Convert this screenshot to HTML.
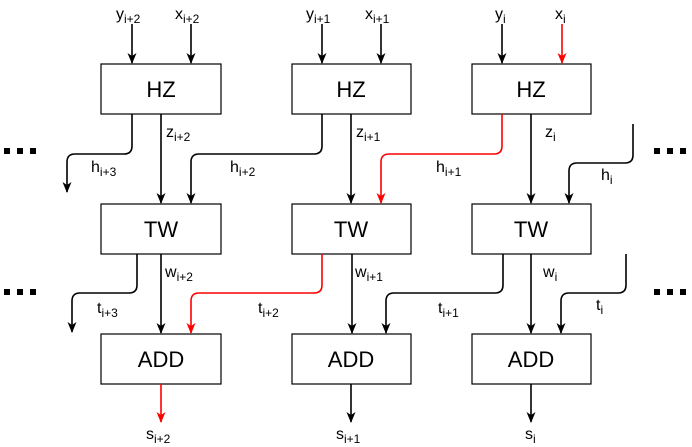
<!DOCTYPE html>
<html><head><meta charset="utf-8"><style>
html,body{margin:0;padding:0;background:#fff;}
svg{display:block;font-family:"Liberation Sans",Arial,sans-serif;}
.b{fill:#fff;stroke:#000;stroke-width:1.2}
.l{fill:none;stroke:#000;stroke-width:1.6}
.r{fill:none;stroke:#f00;stroke-width:1.6}
.bt{font-size:22px;text-anchor:middle}
.t{font-size:16px}
.s{font-size:12px}
</style></head><body>
<svg width="692" height="447" viewBox="0 0 692 447">
<defs>
<marker id="a" markerWidth="12" markerHeight="12" refX="10" refY="6" orient="auto" markerUnits="userSpaceOnUse"><path d="M0,1.5 L11,6 L0,10.5 L3,6 Z" fill="#000"/></marker>
<marker id="ar" markerWidth="12" markerHeight="12" refX="10" refY="6" orient="auto" markerUnits="userSpaceOnUse"><path d="M0,1.5 L11,6 L0,10.5 L3,6 Z" fill="#f00"/></marker>
</defs>
<rect class="b" x="101" y="64" width="120" height="50"/><rect class="b" x="292" y="64" width="119" height="50"/><rect class="b" x="472" y="64" width="119" height="50"/>
<rect class="b" x="101" y="204" width="120" height="50"/><rect class="b" x="292" y="204" width="119" height="50"/><rect class="b" x="472" y="204" width="119" height="50"/>
<rect class="b" x="101" y="334" width="120" height="50"/><rect class="b" x="292" y="334" width="119" height="50"/><rect class="b" x="472" y="334" width="119" height="50"/>
<text class="bt" x="161" y="97">HZ</text><text class="bt" x="351" y="97">HZ</text><text class="bt" x="531" y="97">HZ</text>
<text class="bt" x="161" y="237">TW</text><text class="bt" x="351" y="237">TW</text><text class="bt" x="531" y="237">TW</text>
<text class="bt" x="161" y="367">ADD</text><text class="bt" x="351" y="367">ADD</text><text class="bt" x="531" y="367">ADD</text>
<path class="l" d="M132,24V63" marker-end="url(#a)"/><path class="l" d="M191,24V63" marker-end="url(#a)"/>
<path class="l" d="M322,24V63" marker-end="url(#a)"/><path class="l" d="M381,24V63" marker-end="url(#a)"/>
<path class="l" d="M502,24V63" marker-end="url(#a)"/><path class="r" d="M562,24V63" marker-end="url(#ar)"/>
<text class="t" x="116" y="19">y<tspan class="s" dy="4">i+2</tspan></text>
<text class="t" x="175" y="19">x<tspan class="s" dy="4">i+2</tspan></text>
<text class="t" x="306" y="19">y<tspan class="s" dy="4">i+1</tspan></text>
<text class="t" x="365" y="19">x<tspan class="s" dy="4">i+1</tspan></text>
<text class="t" x="495" y="19">y<tspan class="s" dy="4">i</tspan></text>
<text class="t" x="555" y="19">x<tspan class="s" dy="4">i</tspan></text>
<path class="l" d="M161,114V203" marker-end="url(#a)"/><path class="l" d="M351,114V203" marker-end="url(#a)"/><path class="l" d="M531,114V203" marker-end="url(#a)"/>
<text class="t" x="166" y="137">z<tspan class="s" dy="4">i+2</tspan></text>
<text class="t" x="356" y="137">z<tspan class="s" dy="4">i+1</tspan></text>
<text class="t" x="545" y="137">z<tspan class="s" dy="4">i</tspan></text>
<path class="l" d="M132,114V146Q132,154 124,154H75Q67,154 67,162V192" marker-end="url(#a)"/>
<path class="l" d="M322,114V146Q322,154 314,154H199Q191,154 191,162V203" marker-end="url(#a)"/>
<path class="r" d="M502,114V146Q502,154 494,154H389Q381,154 381,162V203" marker-end="url(#ar)"/>
<path class="l" d="M633,124V155Q633,163 625,163H577Q569,163 569,171V203" marker-end="url(#a)"/>
<text class="t" x="91" y="172">h<tspan class="s" dy="4">i+3</tspan></text>
<text class="t" x="230" y="172">h<tspan class="s" dy="4">i+2</tspan></text>
<text class="t" x="436" y="172">h<tspan class="s" dy="4">i+1</tspan></text>
<text class="t" x="601" y="180">h<tspan class="s" dy="4">i</tspan></text>
<path class="l" d="M161,254V333" marker-end="url(#a)"/><path class="l" d="M352,254V333" marker-end="url(#a)"/><path class="l" d="M531,254V333" marker-end="url(#a)"/>
<text class="t" x="165" y="277">w<tspan class="s" dy="4">i+2</tspan></text>
<text class="t" x="355" y="277">w<tspan class="s" dy="4">i+1</tspan></text>
<text class="t" x="543" y="277">w<tspan class="s" dy="4">i</tspan></text>
<path class="l" d="M137,254V285Q137,293 129,293H80Q72,293 72,301V332" marker-end="url(#a)"/>
<path class="r" d="M322,254V285Q322,293 314,293H199Q191,293 191,301V333" marker-end="url(#ar)"/>
<path class="l" d="M503,254V285Q503,293 495,293H394Q386,293 386,301V333" marker-end="url(#a)"/>
<path class="l" d="M626,254V285Q626,293 618,293H569Q561,293 561,301V333" marker-end="url(#a)"/>
<text class="t" x="97" y="313">t<tspan class="s" dy="4">i+3</tspan></text>
<text class="t" x="258" y="313">t<tspan class="s" dy="4">i+2</tspan></text>
<text class="t" x="438" y="313">t<tspan class="s" dy="4">i+1</tspan></text>
<text class="t" x="596" y="310">t<tspan class="s" dy="4">i</tspan></text>
<path class="r" d="M161,384V422" marker-end="url(#ar)"/><path class="l" d="M351,384V422" marker-end="url(#a)"/><path class="l" d="M531,384V422" marker-end="url(#a)"/>
<text class="t" x="146" y="439">s<tspan class="s" dy="4">i+2</tspan></text>
<text class="t" x="336" y="439">s<tspan class="s" dy="4">i+1</tspan></text>
<text class="t" x="525" y="439">s<tspan class="s" dy="4">i</tspan></text>
<g fill="#000">
<rect x="4" y="148" width="6" height="6"/><rect x="17" y="148" width="6" height="6"/><rect x="30" y="148" width="6" height="6"/>
<rect x="654" y="148" width="6" height="6"/><rect x="667" y="148" width="6" height="6"/><rect x="680" y="148" width="6" height="6"/>
<rect x="4" y="289" width="6" height="6"/><rect x="17" y="289" width="6" height="6"/><rect x="30" y="289" width="6" height="6"/>
<rect x="654" y="289" width="6" height="6"/><rect x="667" y="289" width="6" height="6"/><rect x="680" y="289" width="6" height="6"/>
</g>
</svg>
</body></html>
